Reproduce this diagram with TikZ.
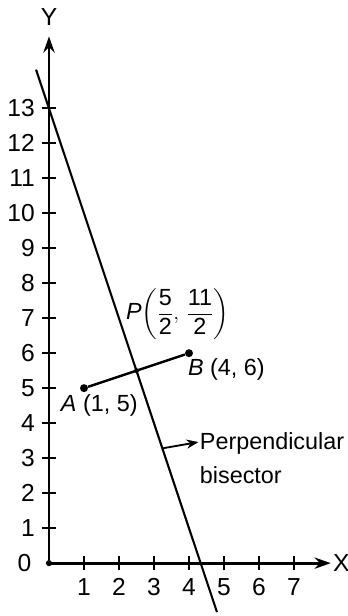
\documentclass[tikz,border=0pt]{standalone}
\usepackage{amsmath}
\usepackage{fontspec}
\setmainfont{Liberation Sans}
\usetikzlibrary{arrows.meta}
\begin{document}
\begin{tikzpicture}[every node/.style={font=\fontsize{19}{27}\selectfont},axis/.style={line width=2.2pt,-{Stealth[length=4.6mm,width=3.2mm]}},tick/.style={line width=1.8pt},num/.style={font=\fontsize{20}{22}\selectfont},bis/.style={line width=1.7pt},seg/.style={line width=2pt},dot/.style={circle,fill,inner sep=0pt,minimum size=6.5pt},pointer/.style={line width=1.5pt,-{Stealth[length=3.4mm,width=2.6mm]}}]
\useasboundingbox (-1.4,-1.51) rectangle (8.54,16.09);
\coordinate (O) at (0,0);\coordinate (Xe) at (8.05,0);\coordinate (Ye) at (0,15.05);
\draw[axis] (O)--(Xe);\draw[axis] (O)--(Ye);\node[dot,minimum size=5pt] (o) at (O){};
\node[num] (xl) at (8.35,0){X};\node[num] (yl) at (0,15.6){Y};
\foreach \i in {1,...,7}{\draw[tick] (\i,-.2)--(\i,.2);\node[num] (x\i) at (\i,-.68){\i};}
\foreach \j in {1,...,13}{\draw[tick] (-.2,\j)--(.2,\j);\node[num,anchor=east] (y\j) at (-.28,\j){\j};}
\node[num,anchor=east] (y0) at (-.38,0){0};
\coordinate (L1) at (-.37,14.1);\coordinate (L2) at (4.8,-1.4);\draw[bis] (L1)--(L2);
\node[dot] (A) at (1,5){};\node[dot] (B) at (4,6){};\node[dot,minimum size=4pt] (P) at (2.5,5.5){};\draw[seg] (A)--(B);
\node[anchor=north west,inner sep=1pt] (Al) at (.3,4.85){\textit{A} (1, 5)};
\node[anchor=north west,inner sep=1pt] (Bl) at (3.93,5.9){\textit{B} (4, 6)};
\node[anchor=west,inner sep=0pt] (Pl) at (2.2,7.1){\textit{P}$\left(\dfrac{\text{5}}{\text{2}},\,\dfrac{\text{11}}{\text{2}}\right)$};
\coordinate (Q) at (3.24,3.28);\coordinate (T) at (4.27,3.46);
\node[anchor=west,align=left,inner sep=1pt] (bl) at (4.27,3.0){Perpendicular\\bisector};
\draw[pointer] (Q)--(T);
\end{tikzpicture}
\end{document}
